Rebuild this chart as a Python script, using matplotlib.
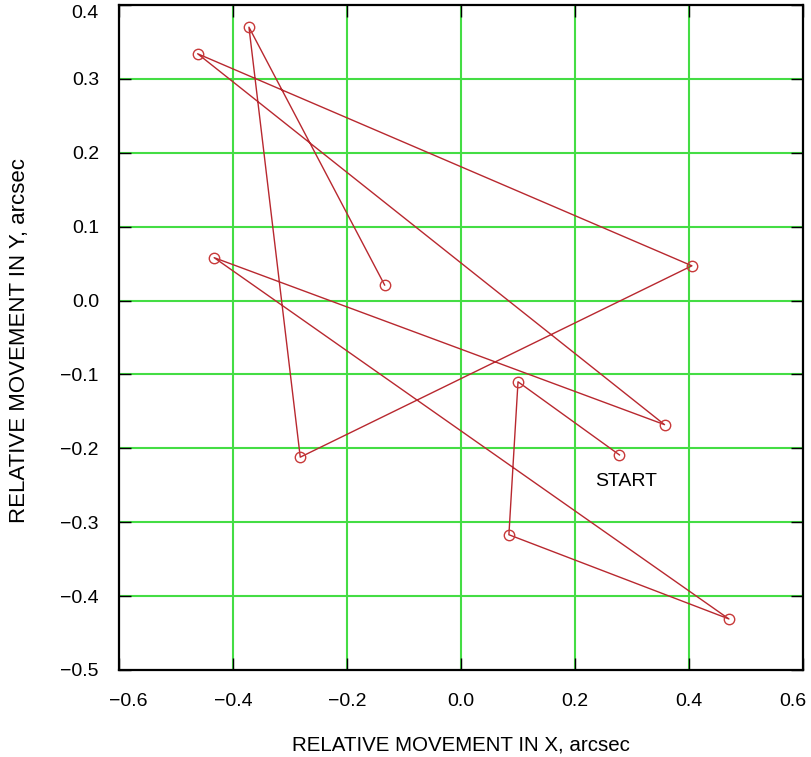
import matplotlib
matplotlib.use("Agg")
import matplotlib.pyplot as plt
from matplotlib.transforms import ScaledTranslation

# Path of relative movement (in order, starting at START)
x_vals = [0.278, 0.100, 0.084, 0.470, -0.433, 0.357, -0.462, 0.405, -0.282, -0.372, -0.134]
y_vals = [-0.209, -0.110, -0.317, -0.431, 0.058, -0.168, 0.334, 0.047, -0.212, 0.370, 0.021]

x_ticks = [-0.6, -0.4, -0.2, 0.0, 0.2, 0.4, 0.6]
y_ticks = [-0.5, -0.4, -0.3, -0.2, -0.1, 0.0, 0.1, 0.2, 0.3, 0.4]
x_label = "RELATIVE MOVEMENT IN X, arcsec"
y_label = "RELATIVE MOVEMENT IN Y, arcsec"
start_label = "START"

plt.rcParams['font.family'] = ['Liberation Sans', 'DejaVu Sans']

fig = plt.figure(figsize=(8.11, 7.57), dpi=100)
ax = fig.add_axes([0.1467, 0.115, 0.8435, 0.8784])

ax.set_xlim(-0.6, 0.6)
ax.set_ylim(-0.5, 0.4)
ax.set_xticks(x_ticks)
ax.set_yticks(y_ticks)
ax.set_xticklabels([f"{v:.1f}".replace("-", "\u2212") for v in x_ticks])
ax.set_yticklabels([f"{v:.1f}".replace("-", "\u2212") for v in y_ticks])

# green grid (skip at frame edges)
for xv in x_ticks[1:-1]:
    ax.axvline(xv, color="#44dd44", lw=1.5, zorder=1)
for yv in y_ticks[1:-1]:
    ax.axhline(yv, color="#44dd44", lw=1.5, zorder=1)

ax.plot(x_vals, y_vals, color="#b8282f", lw=1.0, zorder=3,
        marker="o", markersize=7.5, markerfacecolor="none",
        markeredgecolor="#c83a3a", markeredgewidth=1.0)

ax.text(0.235, -0.245, start_label, fontsize=14, ha="left", va="center")

ax.tick_params(direction="in", length=8.5, width=1.0, top=True, right=True,
               labelsize=14)
ax.tick_params(axis="x", pad=16.5)
ax.tick_params(axis="y", pad=14.4)
for s in ax.spines.values():
    s.set_linewidth(1.6)

# nudge end labels inward like the reference
xlabels = ax.get_xticklabels()
xlabels[0].set_transform(xlabels[0].get_transform() + ScaledTranslation(9/100, 0, fig.dpi_scale_trans))
xlabels[-1].set_transform(xlabels[-1].get_transform() + ScaledTranslation(-10/100, 0, fig.dpi_scale_trans))
ylabels = ax.get_yticklabels()
ylabels[-1].set_transform(ylabels[-1].get_transform() + ScaledTranslation(0, -7/100, fig.dpi_scale_trans))

ax.set_xlabel(x_label, fontsize=14.8, va="center")
ax.set_ylabel(y_label, fontsize=16, va="center")
ax.xaxis.set_label_coords(0.5006, (670 - 745) / 665)
ax.yaxis.set_label_coords((20 - 119) / 684, (670 - 341) / 665)

fig.savefig("out.png", dpi=100)
